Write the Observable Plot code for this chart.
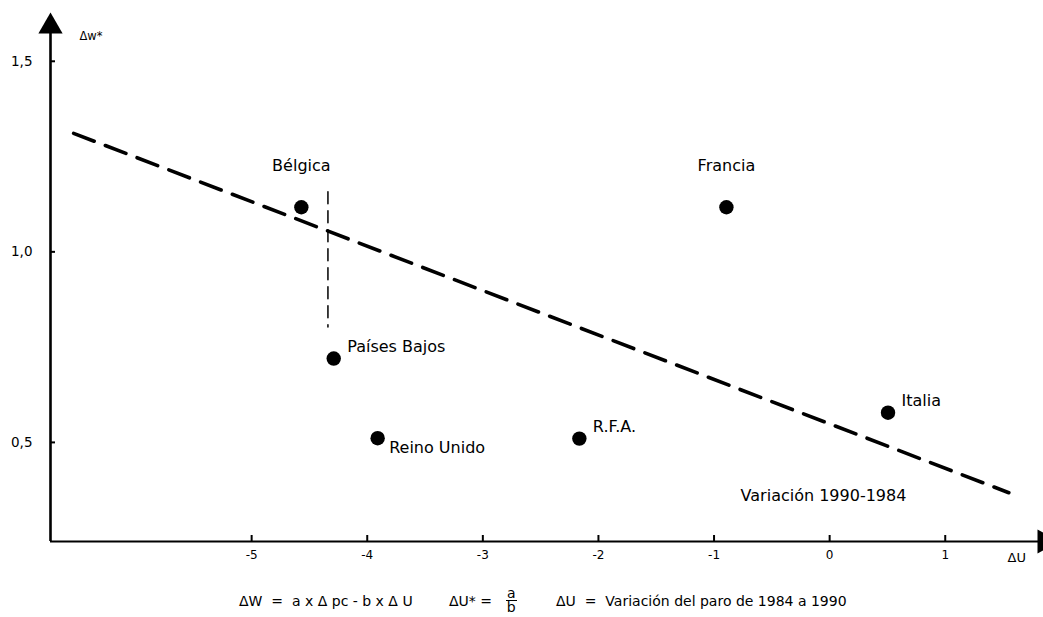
<!DOCTYPE html>
<html>
<head>
<meta charset="utf-8">
<script src="https://cdn.jsdelivr.net/npm/d3@7"></script>
<script src="https://cdn.jsdelivr.net/npm/@observablehq/plot@0.6"></script>
<style>
  html, body { margin: 0; padding: 0; background: #fff; overflow: hidden; }
  #chart svg { display: block; }
  #caption { position: relative; width: 1043px; height: 37px; font-family: "DejaVu Sans", sans-serif; font-size: 14px; color: #000; white-space: pre; line-height: 1; overflow: hidden; }
  #caption .part { position: absolute; top: 14px; }
  #caption .frac { position: absolute; left: 506px; top: 8px; display: flex; flex-direction: column; align-items: center; line-height: 11px; }
  #caption .frac .num { border-bottom: 1px solid #000; padding: 0 1px 1px 1px; }
  #caption .frac .den { padding-top: 1px; }
</style>
</head>
<body>
<div id="chart"></div>
<div id="caption">
  <span class="part" style="left:239px">ΔW  =  a x Δ pc - b x Δ U</span>
  <span class="part" style="left:449px">ΔU* = </span>
  <span class="frac"><span class="num">a</span><span class="den">b</span></span>
  <span class="part" style="left:556px">ΔU  =  Variación del paro de 1984 a 1990</span>
</div>
<script>
// ---- data ----
const countries = ["Bélgica", "Francia", "Países Bajos", "Reino Unido", "R.F.A.", "Italia"];
const deltaU    = [-4.57, -0.893, -4.29, -3.91, -2.165, 0.505];
const deltaW    = [1.117, 1.117, 0.72, 0.511, 0.51, 0.578];

const trendU = [-6.54, 1.55];
const trendW = [1.311, 0.368];

const guideU = [-4.34, -4.34];
const guideW = [1.158, 0.803];

const xTicks = [-5, -4, -3, -2, -1, 0, 1];
const yTicks = [0.5, 1.0, 1.5];
const xDomain = [-6.74, 1.85];
const yDomain = [0.24, 1.628];
const yAxisTop = 1.573;

const yLabel = "Δw*";
const xLabel = "ΔU";
const note = "Variación 1990-1984";

// ---- tables built from the arrays ----
const points = countries.map((name, i) => ({name, u: deltaU[i], w: deltaW[i]}));
const trend = trendU.map((u, i) => ({u, w: trendW[i]}));
const guide = guideU.map((u, i) => ({u, w: guideW[i]}));

const ink = "#000";
const font = "'DejaVu Sans', sans-serif";
const above = ["Bélgica", "Francia"];
const rightUp = ["Países Bajos", "R.F.A.", "Italia"];
const rightDown = ["Reino Unido"];

const chart = Plot.plot({
  width: 1043,
  height: 580,
  marginLeft: 50,
  marginRight: 0,
  marginTop: 12,
  marginBottom: 39,
  style: {fontFamily: font, color: ink, background: "#fff"},
  x: {domain: xDomain},
  y: {domain: yDomain},
  marks: [
    // axes lines
    Plot.ruleX([xDomain[0]], {y1: yDomain[0], y2: yAxisTop, stroke: ink, strokeWidth: 2.6}),
    Plot.ruleY([yDomain[0]], {x1: xDomain[0], x2: xDomain[1], stroke: ink, strokeWidth: 2.2}),
    // inward ticks
    Plot.tickX(xTicks, {x: d => d, insetTop: 523, stroke: ink, strokeWidth: 2}),
    Plot.tickY(yTicks, {y: d => d, insetRight: 988, stroke: ink, strokeWidth: 2}),
    // tick labels
    Plot.axisX({ticks: xTicks, tickSize: 0, tickPadding: 9, tickFormat: d => String(d), fontSize: 12, fill: ink, label: null}),
    Plot.axisY({ticks: yTicks, tickSize: 0, tickPadding: 18, tickFormat: d => d.toFixed(1).replace(".", ","), fontSize: 13.5, fill: ink, label: null}),
    // arrow heads
    Plot.dot([{u: xDomain[0], w: yDomain[1]}], {x: "u", y: "w", symbol: "triangle", r: 9, fill: ink, dy: 14}),
    Plot.dot([{u: xDomain[1], w: yDomain[0]}], {x: "u", y: "w", symbol: "triangle", r: 9, fill: ink, rotate: 90, dx: 1}),
    // axis labels & note
    Plot.text([yLabel], {frameAnchor: "top-left", text: d => d, dx: 29, dy: 19, textAnchor: "start", fontSize: 11.5, fill: ink}),
    Plot.text([xLabel], {frameAnchor: "bottom-right", text: d => d, dx: -36, dy: 20.5, textAnchor: "start", fontSize: 13, fill: ink}),
    Plot.text([note], {frameAnchor: "bottom-right", text: d => d, dx: -220, dy: -41, textAnchor: "middle", fontSize: 16, fill: ink}),
    // regression line and guide
    Plot.line(trend, {x: "u", y: "w", stroke: ink, strokeWidth: 3.6, strokeDasharray: "22,12"}),
    Plot.line(guide, {x: "u", y: "w", stroke: ink, strokeWidth: 1.5, strokeDasharray: "12,7"}),
    // countries
    Plot.dot(points, {x: "u", y: "w", r: 7.2, fill: ink}),
    Plot.text(points, {filter: d => above.includes(d.name), x: "u", y: "w", text: "name", dy: -41, textAnchor: "middle", fontSize: 16, fill: ink}),
    Plot.text(points, {filter: d => rightUp.includes(d.name), x: "u", y: "w", text: "name", dx: 13.5, dy: -12, textAnchor: "start", fontSize: 16, fill: ink}),
    Plot.text(points, {filter: d => rightDown.includes(d.name), x: "u", y: "w", text: "name", dx: 11.5, dy: 10, textAnchor: "start", fontSize: 16, fill: ink})
  ]
});
document.getElementById("chart").appendChild(chart);
</script>
</body>
</html>
